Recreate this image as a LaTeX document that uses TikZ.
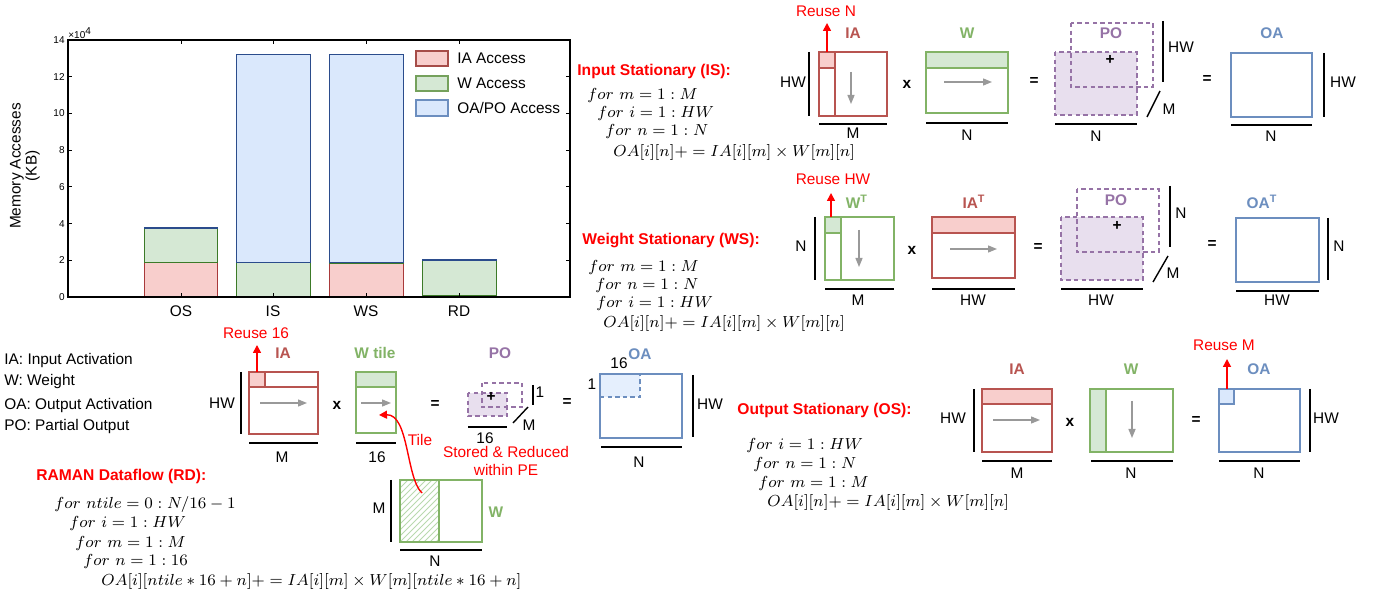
\documentclass[tikz,border=0pt]{standalone}
\usepackage[no-math]{fontspec}
\newfontfamily\lsans{Liberation Sans}
\usetikzlibrary{arrows.meta}
\definecolor{rS}{HTML}{B85450}\definecolor{rF}{HTML}{F8CECC}
\definecolor{gS}{HTML}{82B366}\definecolor{gF}{HTML}{D5E8D4}
\definecolor{bS}{HTML}{6C8EBF}\definecolor{bF}{HTML}{DAE8FC}
\definecolor{pS}{HTML}{9673A6}\definecolor{pF}{HTML}{E8DFEE}
\definecolor{redA}{HTML}{FF0000}
\definecolor{grA}{HTML}{999999}
\definecolor{barR}{HTML}{A8393A}\definecolor{barG}{HTML}{3C7A28}\definecolor{barB}{HTML}{2B4C8C}
\definecolor{hatchG}{HTML}{B9D9AE}
\newcommand\lf{\lsans\fontsize{7.7}{9.2}\selectfont}
\tikzset{
  lbl/.style={font=\lf},
  blbl/.style={font=\lf\bfseries},
  ttl/.style={font=\lsans\bfseries\fontsize{7.8}{9.4}\selectfont, text=redA, anchor=west},
  rtxt/.style={font=\lf, text=redA},
  code/.style={font=\fontsize{8}{9.6}\selectfont, anchor=west},
  tick/.style={font=\lsans\fontsize{5}{6}\selectfont, anchor=east},
  dimln/.style={line width=0.8pt, draw=black},
  rbox/.style={draw=rS, line width=0.65pt},
  gbox/.style={draw=gS, line width=0.65pt},
  bbox/.style={draw=bS, line width=0.65pt},
  pdash/.style={draw=pS, line width=0.6pt, dash pattern=on 2.2pt off 1.6pt},
  bdash/.style={draw=bS, line width=0.6pt, dash pattern=on 2.2pt off 1.6pt},
  garr/.style={draw=grA, line width=0.65pt, -{Triangle[length=4.5pt,width=3.5pt]}},
  rarr/.style={draw=redA, line width=0.8pt, -{Triangle[length=4pt,width=4pt]}},
  barIA/.style={fill=rF, draw=barR, line width=0.5pt},
  barW/.style={fill=gF, draw=barG, line width=0.5pt},
  barOA/.style={fill=bF, draw=barB, line width=0.5pt},
}
\begin{document}
\begin{tikzpicture}[x=0.5pt,y=-0.5pt, every node/.style={inner sep=0pt}]
\useasboundingbox (0,0) rectangle (1374,597);
\fill[white] (0,0) rectangle (1374,597);

% ================= Bar chart =================
\begin{scope}[shift={(0,297)},y=9.1785pt]
  % OS
  \draw[barIA] (144,0) rectangle (217,1.9);
  \draw[barW] (144,1.9) rectangle (217,3.75);
  \draw[barOA] (144,3.75) rectangle (217,3.8);
  % IS
  \draw[barIA] (236,0) rectangle (310,0.05);
  \draw[barW] (236,0.05) rectangle (310,1.9);
  \draw[barOA] (236,1.9) rectangle (310,13.2);
  % WS
  \draw[barIA] (329,0) rectangle (403,1.85);
  \draw[barW] (329,1.85) rectangle (403,1.9);
  \draw[barOA] (329,1.9) rectangle (403,13.2);
  % RD
  \draw[barIA] (422,0) rectangle (496,0.1);
  \draw[barW] (422,0.1) rectangle (496,1.97);
  \draw[barOA] (422,1.97) rectangle (496,2.03);
  % axes
  \draw[line width=0.55pt] (68,0) rectangle (570,14);
  \foreach \v [count=\i] in {0,2,...,14} {
    \draw[line width=0.45pt] (68,\v) -- (72,\v);
    \draw[line width=0.45pt] (570,\v) -- (566,\v);
    \node[tick] (yt\i) at (65,\v) {\v};
  }
  \foreach \xx in {181,273,366,459} {
    \draw[line width=0.45pt] (\xx,0) -- (\xx,0.22);
    \draw[line width=0.45pt] (\xx,14) -- (\xx,13.78);
  }
\end{scope}
\node[font=\lsans\fontsize{5}{6}\selectfont, anchor=west] (xten) at (68,33) {×10\textsuperscript{4}};
\node[font=\lsans\fontsize{7.7}{8}\selectfont, rotate=90, align=center] (ylab) at (25,166) {Memory Accesses\\(KB)};
\node[lbl] (xOS) at (181,311) {OS};
\node[lbl] (xIS) at (273,311) {IS};
\node[lbl] (xWS) at (366,311) {WS};
\node[lbl] (xRD) at (459,311) {RD};
% legend
\draw[fill=rF, draw=rS!90!black, line width=0.9pt] (416,51) rectangle (448,66);
\draw[fill=gF, draw=gS!90!black, line width=0.9pt] (416,76) rectangle (448,91);
\draw[fill=bF, draw=bS, line width=0.9pt] (416,100) rectangle (448,116);
\node[lbl, anchor=west] (lgA) at (457,58) {IA Access};
\node[lbl, anchor=west] (lgB) at (457,83) {W Access};
\node[lbl, anchor=west] (lgC) at (457,108) {OA/PO Access};

% ================= Abbreviations =================
\node[lbl, anchor=west] (ab1) at (4,361) {IA: Input Activation};
\node[lbl, anchor=west] (ab2) at (4,382) {W: Weight};
\node[lbl, anchor=west] (ab3) at (4,406) {OA: Output Activation};
\node[lbl, anchor=west] (ab4) at (4,427) {PO: Partial Output};

% ================= Input Stationary =================
\node[ttl] (isT) at (577,71) {Input Stationary (IS):};
\node[code] (isc1) at (587,96) {$for\ m=1:M$};
\node[code] (isc2) at (597,114) {$for\ i=1:HW$};
\node[code] (isc3) at (605,132) {$for\ n=1:N$};
\node[code] (isc4) at (613,153) {$OA[i][n]+=IA[i][m]\times W[m][n]$};
% IA
\fill[rF] (819,52) rectangle (835,68);
\draw[rbox] (819,52) rectangle (887,116);
\draw[rbox] (835,52) -- (835,116);
\draw[rbox] (819,68) -- (835,68);
\coordinate (isdA) at (851,72); \coordinate (isdB) at (851,104);
\draw[garr] (isdA) -- (isdB);
\draw[dimln] (809,52) -- (809,116);
\node[lbl] (isHW1) at (793,82) {HW};
\draw[dimln] (819,124) -- (887,124);
\node[lbl] (isM1) at (853,133) {M};
\node[blbl, text=rS] (isIA) at (853,33) {IA};
\coordinate (isr0) at (827,52); \coordinate (isr1) at (827,23);
\draw[rarr] (isr0) -- (isr1);
\node[rtxt] (isR) at (826,11) {Reuse N};
\node[blbl] (isx) at (907,84) {x};
% W
\fill[gF] (926,52) rectangle (1008,68);
\draw[gbox] (926,52) rectangle (1008,113);
\draw[gbox] (926,68) -- (1008,68);
\coordinate (isaA) at (944,82); \coordinate (isaB) at (992,82);
\draw[garr] (isaA) -- (isaB);
\draw[dimln] (926,123) -- (1008,123);
\node[lbl] (isN1) at (967,135) {N};
\node[blbl, text=gS] (isW) at (967,33) {W};
\node[blbl] (iseq1) at (1034,82) {=};
% PO
\fill[pF] (1055,52) rectangle (1137,115);
\draw[pdash] (1055,52) rectangle (1137,115);
\draw[pdash] (1071,23) rectangle (1153,87);
\node[font=\lf\bfseries] (isplus) at (1110,60) {+};
\node[blbl, text=pS] (isPO) at (1111,33) {PO};
\draw[dimln] (1163,21) -- (1163,82);
\node[lbl] (isHW2) at (1181,47) {HW};
\draw[line width=0.7pt] (1147,117) -- (1160,91);
\node[lbl] (isM2) at (1169,109) {M};
\draw[dimln] (1055,124) -- (1137,124);
\node[lbl] (isN2) at (1096,136) {N};
\node[blbl] (iseq2) at (1207,80) {=};
% OA
\draw[bbox] (1231,53) rectangle (1312,117);
\node[blbl, text=bS] (isOA) at (1272,33) {OA};
\draw[dimln] (1324,53) -- (1324,117);
\node[lbl] (isHW3) at (1343,82) {HW};
\draw[dimln] (1231,125) -- (1312,125);
\node[lbl] (isN3) at (1271,136) {N};

% ================= Weight Stationary =================
\node[ttl] (wsT) at (582,241) {Weight Stationary (WS):};
\node[code] (wsc1) at (588,268) {$for\ m=1:M$};
\node[code] (wsc2) at (595,286) {$for\ n=1:N$};
\node[code] (wsc3) at (596,304) {$for\ i=1:HW$};
\node[code] (wsc4) at (603,324) {$OA[i][n]+=IA[i][m]\times W[m][n]$};
% W^T
\fill[gF] (825,217) rectangle (841,233);
\draw[gbox] (825,217) rectangle (894,280);
\draw[gbox] (841,217) -- (841,280);
\draw[gbox] (825,233) -- (841,233);
\coordinate (wsdA) at (859,230); \coordinate (wsdB) at (859,267);
\draw[garr] (wsdA) -- (wsdB);
\draw[dimln] (815,217) -- (815,280);
\node[lbl] (wsN1) at (801,246) {N};
\draw[dimln] (825,289) -- (894,289);
\node[lbl] (wsM1) at (858,300) {M};
\node[blbl, text=gS] (wsW) at (857,202) {W\textsuperscript{T}};
\coordinate (wsr0) at (831,217); \coordinate (wsr1) at (831,193);
\draw[rarr] (wsr0) -- (wsr1);
\node[rtxt] (wsR) at (833,179) {Reuse HW};
\node[blbl] (wsx) at (912,250) {x};
% IA^T
\fill[rF] (932,217) rectangle (1015,233);
\draw[rbox] (932,217) rectangle (1015,278);
\draw[rbox] (932,233) -- (1015,233);
\coordinate (wsaA) at (950,249); \coordinate (wsaB) at (997,249);
\draw[garr] (wsaA) -- (wsaB);
\node[blbl, text=rS] (wsIA) at (974,202) {IA\textsuperscript{T}};
\draw[dimln] (932,289) -- (1015,289);
\node[lbl] (wsHW1) at (973,300) {HW};
\node[blbl] (wseq1) at (1038,248) {=};
% PO
\fill[pF] (1061,217) rectangle (1143,280);
\draw[pdash] (1061,217) rectangle (1143,280);
\draw[pdash] (1077,189) rectangle (1159,252);
\node[font=\lf\bfseries] (wsplus) at (1117,226) {+};
\node[blbl, text=pS] (wsPO) at (1116,200) {PO};
\draw[dimln] (1170,186) -- (1170,247);
\node[lbl] (wsN2) at (1181,213) {N};
\draw[line width=0.7pt] (1153,282) -- (1168,256);
\node[lbl] (wsM2) at (1173,273) {M};
\draw[dimln] (1061,289) -- (1143,289);
\node[lbl] (wsHW2) at (1101,300) {HW};
\node[blbl] (wseq2) at (1212,245) {=};
% OA^T
\draw[bbox] (1236,218) rectangle (1319,282);
\node[blbl, text=bS] (wsOA) at (1262,202) {OA\textsuperscript{T}};
\draw[dimln] (1328,218) -- (1328,280);
\node[lbl] (wsN3) at (1339,246) {N};
\draw[dimln] (1236,291) -- (1319,291);
\node[lbl] (wsHW3) at (1277,300) {HW};

% ================= RAMAN Dataflow =================
\node[ttl] (rdT) at (36,476) {RAMAN Dataflow (RD):};
\node[code] (rdc1) at (54,505) {$for\ ntile=0:N/16-1$};
\node[code] (rdc2) at (69,524) {$for\ i=1:HW$};
\node[code] (rdc3) at (75,543) {$for\ m=1:M$};
\node[code] (rdc4) at (83,562) {$for\ n=1:16$};
\node[code] (rdc5) at (101,581) {$OA[i][ntile*16+n]+=IA[i][m]\times W[m][ntile*16+n]$};
% IA
\fill[rF] (249,372) rectangle (265,387);
\draw[rbox] (249,372) rectangle (318,434);
\draw[rbox] (249,387) -- (318,387);
\draw[rbox] (265,372) -- (265,387);
\coordinate (rdaA) at (260,403); \coordinate (rdaB) at (307,403);
\draw[garr] (rdaA) -- (rdaB);
\draw[dimln] (241,372) -- (241,434);
\node[lbl] (rdHW1) at (222,403) {HW};
\draw[dimln] (249,443) -- (318,443);
\node[lbl] (rdM1) at (282,457) {M};
\node[blbl, text=rS] (rdIA) at (283,353) {IA};
\coordinate (rdr0) at (257,372); \coordinate (rdr1) at (257,345);
\draw[rarr] (rdr0) -- (rdr1);
\node[rtxt] (rdR) at (256,333) {Reuse 16};
\node[blbl] (rdx) at (337,405) {x};
% W tile
\fill[gF] (356,372) rectangle (396,387);
\draw[gbox] (356,372) rectangle (396,433);
\draw[gbox] (356,387) -- (396,387);
\coordinate (rdbA) at (361,403); \coordinate (rdbB) at (391,403);
\draw[garr] (rdbA) -- (rdbB);
\node[blbl, text=gS] (rdWt) at (375,353) {W tile};
\draw[dimln] (356,443) -- (396,443);
\node[lbl] (rd16a) at (377,457) {16};
\node[blbl] (rdeq1) at (435,404) {=};
% PO
\fill[pF] (468,393) rectangle (507,416);
\draw[pdash] (468,393) rectangle (507,416);
\draw[pdash] (482,383) rectangle (522,407);
\node[font=\lf\bfseries] (rdplus) at (491,397) {+};
\node[blbl, text=pS] (rdPO) at (500,353) {PO};
\draw[dimln] (533,385) -- (533,405);
\node[lbl] (rd1a) at (540,392) {1};
\draw[line width=0.7pt] (513,423) -- (528,407);
\node[lbl] (rdM2) at (529,425) {M};
\draw[dimln] (468,427) -- (507,427);
\node[lbl] (rd16b) at (485,438) {16};
\node[blbl] (rdeq2) at (567,402) {=};
% OA
\fill[bF!70!white] (600,374) rectangle (640,397);
\draw[bbox] (600,374) rectangle (682,438);
\draw[bdash] (600,397) -- (640,397) -- (640,374);
\node[lbl] (rd16c) at (619,363) {16};
\node[blbl, text=bS] (rdOA) at (640,354) {OA};
\node[lbl] (rd1b) at (592,384) {1};
\draw[dimln] (693,375) -- (693,437);
\node[lbl] (rdHW2) at (710,404) {HW};
\draw[dimln] (601,447) -- (682,447);
\node[lbl] (rdN1) at (639,462) {N};
% notes
\node[rtxt] (rdTile) at (420,440) {Tile};
\node[rtxt] (rdS1) at (506,452) {Stored \& Reduced};
\node[rtxt] (rdS2) at (506,470) {within PE};
% big W
\begin{scope}
  \clip (400,480) rectangle (439,542);
  \foreach \k in {-11,...,7} {
    \draw[hatchG, line width=0.5pt] ({400+\k*6},542) -- ++(64,-64);
  }
\end{scope}
\draw[gbox] (400,480) rectangle (482,542);
\draw[draw=gS, line width=1.3pt] (400,480) rectangle (439,542);
\draw[dimln] (391,480) -- (391,542);
\node[lbl] (rdM3) at (379,508) {M};
\draw[dimln] (400,550) -- (482,550);
\node[lbl] (rdN2) at (435,561) {N};
\node[blbl, text=gS] (rdW) at (496,512) {W};
\coordinate (tileA) at (422,493); \coordinate (tileB) at (379,415);
\draw[rarr, line width=0.7pt] (tileA) .. controls (406,478) and (409,414) .. (tileB);

% ================= Output Stationary =================
\node[ttl] (osT) at (737,410) {Output Stationary (OS):};
\node[code] (osc1) at (746,446) {$for\ i=1:HW$};
\node[code] (osc2) at (753,465) {$for\ n=1:N$};
\node[code] (osc3) at (758,484) {$for\ m=1:M$};
\node[code] (osc4) at (767,503) {$OA[i][n]+=IA[i][m]\times W[m][n]$};
% IA
\fill[rF] (982,389) rectangle (1052,404);
\draw[rbox] (982,389) rectangle (1052,452);
\draw[rbox] (982,404) -- (1052,404);
\coordinate (osaA) at (993,420); \coordinate (osaB) at (1040,420);
\draw[garr] (osaA) -- (osaB);
\draw[dimln] (974,389) -- (974,452);
\node[lbl] (osHW1) at (953,418) {HW};
\draw[dimln] (982,461) -- (1052,461);
\node[lbl] (osM1) at (1017,473) {M};
\node[blbl, text=rS] (osIA) at (1017,369) {IA};
\node[blbl] (osx) at (1070,422) {x};
% W
\fill[gF] (1090,389) rectangle (1106,452);
\draw[gbox] (1090,389) rectangle (1173,452);
\draw[gbox] (1106,389) -- (1106,452);
\coordinate (osdA) at (1132,401); \coordinate (osdB) at (1132,438);
\draw[garr] (osdA) -- (osdB);
\node[blbl, text=gS] (osW) at (1131,369) {W};
\draw[dimln] (1091,461) -- (1173,461);
\node[lbl] (osN1) at (1131,473) {N};
\node[blbl] (oseq) at (1196,420) {=};
% OA
\fill[bF] (1219,389) rectangle (1234,404);
\draw[bbox] (1219,389) rectangle (1300,452);
\draw[bbox] (1219,404) -- (1234,404) -- (1234,389);
\coordinate (osr0) at (1227,389); \coordinate (osr1) at (1227,359);
\draw[rarr] (osr0) -- (osr1);
\node[rtxt] (osR) at (1224,345) {Reuse M};
\node[blbl, text=bS] (osOA) at (1259,369) {OA};
\draw[dimln] (1310,389) -- (1310,452);
\node[lbl] (osHW2) at (1326,418) {HW};
\draw[dimln] (1219,461) -- (1300,461);
\node[lbl] (osN2) at (1259,473) {N};
\end{tikzpicture}
\end{document}
